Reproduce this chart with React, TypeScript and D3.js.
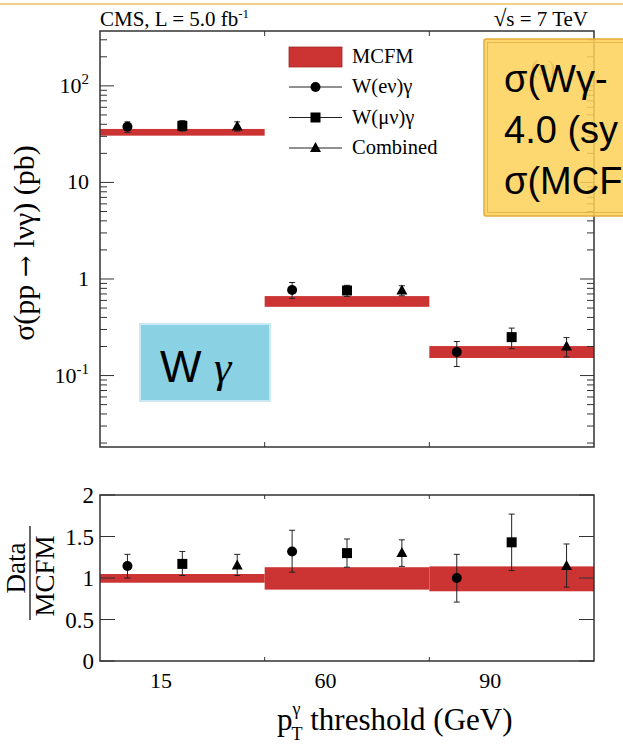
import React from 'react';
import * as d3 from 'd3';

// ---- data ----
const categories = ['15', '60', '90'];
const mcfmCentral = [33, 0.585, 0.175];
const mcfmLow = [30.5, 0.515, 0.152];
const mcfmHigh = [35.8, 0.665, 0.202];
const ratioBandLow = [0.943, 0.86, 0.84];
const ratioBandHigh = [1.048, 1.13, 1.14];

const eValues = [37.8, 0.77, 0.175];
const eLow = [33, 0.63, 0.124];
const eHigh = [42.4, 0.92, 0.225];
const muValues = [38.6, 0.76, 0.25];
const muLow = [34, 0.66, 0.19];
const muHigh = [43.6, 0.86, 0.31];
const combValues = [38, 0.76, 0.2];
const combLow = [34, 0.67, 0.156];
const combHigh = [42.4, 0.85, 0.247];

const eRatio = [1.145, 1.32, 1.0];
const eRatioLow = [1.0, 1.07, 0.71];
const eRatioHigh = [1.285, 1.575, 1.285];
const muRatio = [1.17, 1.3, 1.43];
const muRatioLow = [1.03, 1.13, 1.09];
const muRatioHigh = [1.32, 1.47, 1.77];
const combRatio = [1.15, 1.3, 1.145];
const combRatioLow = [1.03, 1.14, 0.89];
const combRatioHigh = [1.285, 1.46, 1.41];

const ratioTicks = [0, 0.5, 1, 1.5, 2];
const ratioTickLabels = ['0', '0.5', '1', '1.5', '2'];

const series = [
  { name: 'W(eν)γ', shape: 'circle', v: eValues, lo: eLow, hi: eHigh, r: eRatio, rlo: eRatioLow, rhi: eRatioHigh, slot: 0 },
  { name: 'W(μν)γ', shape: 'square', v: muValues, lo: muLow, hi: muHigh, r: muRatio, rlo: muRatioLow, rhi: muRatioHigh, slot: 1 },
  { name: 'Combined', shape: 'triangle', v: combValues, lo: combLow, hi: combHigh, r: combRatio, rlo: combRatioLow, rhi: combRatioHigh, slot: 2 },
];

const SERIF = '"Liberation Serif", "DejaVu Serif", serif';
const SANS = '"Liberation Sans", Arial, sans-serif';
const RED = '#cc3333';
const FRAME = '#333';

function Marker({ shape, cx, cy }: { shape: string; cx: number; cy: number }) {
  if (shape === 'circle') return <circle cx={cx} cy={cy} r={5} fill="#000" />;
  if (shape === 'square') return <rect x={cx - 5} y={cy - 5} width={10} height={10} fill="#000" />;
  return <path d={`M${cx},${cy - 6}L${cx + 5.5},${cy + 4}L${cx - 5.5},${cy + 4}Z`} fill="#000" />;
}

export default function App() {
  const W = 623;
  const H = 749;
  const x = d3.scaleLinear().domain([0, 3]).range([100, 594]);
  const yTop = d3.scaleLog().domain([0.0182, 370]).range([447, 31]);
  const yR = d3.scaleLinear().domain([0, 2]).range([661, 495]);

  const [tx0, tx1] = x.range();
  const [ty1, ty0] = yTop.range();
  const [ry1, ry0] = yR.range();

  // log ticks
  const logTicks: { v: number; major: boolean }[] = [];
  for (let k = -2; k <= 2; k++) {
    for (let m = 1; m <= 9; m++) {
      const v = m * Math.pow(10, k);
      if (v >= yTop.domain()[0] && v <= yTop.domain()[1]) logTicks.push({ v, major: m === 1 });
    }
  }
  const majorLabel = (v: number) => {
    const e = Math.round(Math.log10(v));
    if (e === 0) return <tspan>1</tspan>;
    if (e === 1) return <tspan>10</tspan>;
    return (
      <>
        <tspan>10</tspan>
        <tspan dy={-9} fontSize={15}>{String(e)}</tspan>
      </>
    );
  };

  const slotX = (i: number, slot: number) => x(i + (2 * slot + 1) / 6);
  const boundaries = [1, 2];

  return (
    <svg width={W} height={H} style={{ position: 'absolute', left: 0, top: 0, background: '#fff' }}>
      <rect x={0} y={0} width={W} height={H} fill="#fff" />
      {/* top decorative line */}
      <line x1={0} x2={W} y1={4} y2={4} stroke="#f6cf86" strokeWidth={2} />

      {/* header texts */}
      <text x={100} y={26} fontFamily={SERIF} fontSize={21} fill="#000">
        CMS, L = 5.0 fb<tspan dy={-8} fontSize={13}>-1</tspan>
      </text>
      <text x={588} y={26} fontFamily={SERIF} fontSize={21} fill="#000" textAnchor="end">
        <tspan fontSize={23}>√</tspan>s = 7 TeV
      </text>

      {/* ===== top panel ===== */}
      {categories.map((c, i) => (
        <rect key={'band' + c} x={x(i)} width={x(i + 1) - x(i)} y={yTop(mcfmHigh[i])}
          height={yTop(mcfmLow[i]) - yTop(mcfmHigh[i])} fill={RED} />
      ))}
      {series.map((s) =>
        categories.map((c, i) => {
          const cx = slotX(i, s.slot);
          return (
            <g key={s.name + c}>
              <line x1={cx} x2={cx} y1={yTop(s.hi[i])} y2={yTop(s.lo[i])} stroke="#222" strokeWidth={1} />
              <line x1={cx - 3} x2={cx + 3} y1={yTop(s.hi[i])} y2={yTop(s.hi[i])} stroke="#222" strokeWidth={1} />
              <line x1={cx - 3} x2={cx + 3} y1={yTop(s.lo[i])} y2={yTop(s.lo[i])} stroke="#222" strokeWidth={1} />
              <Marker shape={s.shape} cx={cx} cy={yTop(s.v[i])} />
            </g>
          );
        })
      )}
      {/* frame */}
      <rect x={tx0} y={ty0} width={tx1 - tx0} height={ty1 - ty0} fill="none" stroke={FRAME} strokeWidth={1.5} />
      {logTicks.map((t) => (
        <g key={'lt' + t.v}>
          <line x1={tx0} x2={tx0 + (t.major ? 14 : 7)} y1={yTop(t.v)} y2={yTop(t.v)} stroke={FRAME} strokeWidth={1} />
          <line x1={tx1} x2={tx1 - (t.major ? 14 : 7)} y1={yTop(t.v)} y2={yTop(t.v)} stroke={FRAME} strokeWidth={1} />
        </g>
      ))}
      {logTicks.filter((t) => t.major).map((t) => (
        <text key={'ll' + t.v} x={89} y={yTop(t.v) + 7} fontFamily={SERIF} fontSize={22} textAnchor="end" fill="#000">
          {majorLabel(t.v)}
        </text>
      ))}
      {boundaries.map((b) => (
        <g key={'tb' + b}>
          <line x1={x(b)} x2={x(b)} y1={ty0} y2={ty0 + 5} stroke={FRAME} strokeWidth={1} />
          <line x1={x(b)} x2={x(b)} y1={ty1} y2={ty1 - 5} stroke={FRAME} strokeWidth={1} />
        </g>
      ))}
      {/* y title */}
      <text transform={`translate(34,${(ty0 + ty1) / 2 + 4}) rotate(-90)`} fontFamily={SERIF} fontSize={30}
        textAnchor="middle" fill="#000">
        σ(pp <tspan fontFamily='"DejaVu Serif", serif' fontSize={26}>→</tspan> lνγ) (pb)
      </text>

      {/* legend */}
      <g fontFamily={SERIF} fontSize={20.5} fill="#000">
        <rect x={289} y={47} width={53} height={20} fill={RED} stroke="#a02828" strokeWidth={0.8} />
        <text x={352} y={63}>MCFM</text>
        {series.map((s, k) => {
          const yy = 87 + k * 30.5;
          return (
            <g key={'lg' + s.name}>
              <line x1={289} x2={342} y1={yy} y2={yy} stroke="#222" strokeWidth={1} />
              <Marker shape={s.shape} cx={315.5} cy={yy} />
              <text x={352} y={yy + 6}>{s.name}</text>
            </g>
          );
        })}
      </g>

      {/* ===== ratio panel ===== */}
      {categories.map((c, i) => (
        <rect key={'rb' + c} x={x(i)} width={x(i + 1) - x(i)} y={yR(ratioBandHigh[i])}
          height={yR(ratioBandLow[i]) - yR(ratioBandHigh[i])} fill={RED} />
      ))}
      {series.map((s) =>
        categories.map((c, i) => {
          const cx = slotX(i, s.slot);
          return (
            <g key={'r' + s.name + c}>
              <line x1={cx} x2={cx} y1={yR(s.rhi[i])} y2={yR(s.rlo[i])} stroke="#222" strokeWidth={1} />
              <line x1={cx - 3} x2={cx + 3} y1={yR(s.rhi[i])} y2={yR(s.rhi[i])} stroke="#222" strokeWidth={1} />
              <line x1={cx - 3} x2={cx + 3} y1={yR(s.rlo[i])} y2={yR(s.rlo[i])} stroke="#222" strokeWidth={1} />
              <Marker shape={s.shape} cx={cx} cy={yR(s.r[i])} />
            </g>
          );
        })
      )}
      <rect x={tx0} y={ry0} width={tx1 - tx0} height={ry1 - ry0} fill="none" stroke={FRAME} strokeWidth={1.5} />
      {ratioTicks.map((t, k) => (
        <g key={'rt' + t}>
          <line x1={tx0} x2={tx0 + 15} y1={yR(t)} y2={yR(t)} stroke={FRAME} strokeWidth={1} />
          <line x1={tx1} x2={tx1 - 15} y1={yR(t)} y2={yR(t)} stroke={FRAME} strokeWidth={1} />
          <text x={94} y={yR(t) + 8} fontFamily={SERIF} fontSize={23} textAnchor="end" fill="#000">
            {ratioTickLabels[k]}
          </text>
        </g>
      ))}
      {boundaries.map((b) => (
        <g key={'rbd' + b}>
          <line x1={x(b)} x2={x(b)} y1={ry0} y2={ry0 + 4} stroke={FRAME} strokeWidth={1} />
          <line x1={x(b)} x2={x(b)} y1={ry1} y2={ry1 - 4} stroke={FRAME} strokeWidth={1} />
        </g>
      ))}
      {/* ratio y title */}
      <g transform={`translate(5,${yR(1)}) rotate(-90)`} fontFamily={SERIF} fontSize={27} fill="#000">
        <text x={10} y={20} textAnchor="middle">Data</text>
        <line x1={-42} x2={52} y1={25} y2={25} stroke="#000" strokeWidth={1.2} />
        <text x={2} y={49} textAnchor="middle">MCFM</text>
      </g>

      {/* x labels */}
      {categories.map((c, i) => (
        <text key={'xl' + c} x={x(i + 0.37)} y={688} fontFamily={SERIF} fontSize={22} textAnchor="middle" fill="#000">
          {c}
        </text>
      ))}
      {/* x title */}
      <text x={277} y={730} fontFamily={SERIF} fontSize={31} fill="#000">
        p<tspan dy={-15} fontSize={18}>γ</tspan>
        <tspan dx={-9} dy={25} fontSize={18}>T</tspan>
        <tspan dy={-10}> threshold (GeV)</tspan>
      </text>

      {/* ===== overlays ===== */}
      <text x={543} y={75} fontFamily={SERIF} fontSize={22} textAnchor="middle" fill="#666">(a)</text>
      <g>
        <rect x={484} y={39} width={160} height={177} fill="#fdd157" fillOpacity={0.85} stroke="#e2ab3a" strokeWidth={1.5} rx={2} />
        <rect x={487.5} y={42.5} width={160} height={170} fill="none" stroke="#e8b84a" strokeWidth={1} />
        <g fontFamily={SANS} fontSize={38} fill="#000">
          <text x={504} y={92}>σ(Wγ-</text>
          <text x={504} y={143}>4.0 (sy</text>
          <text x={504} y={194}>σ(MCF</text>
        </g>
      </g>
      <g>
        <rect x={140} y={324} width={130} height={77} fill="#89d1e3" stroke="#cbe9f2" strokeWidth={2} />
        <text x={160} y={382} fontFamily={SANS} fontSize={44} fill="#000">W</text>
        <text x={214} y={382} fontFamily={SERIF} fontStyle="italic" fontSize={44} fill="#000">γ</text>
      </g>
    </svg>
  );
}
